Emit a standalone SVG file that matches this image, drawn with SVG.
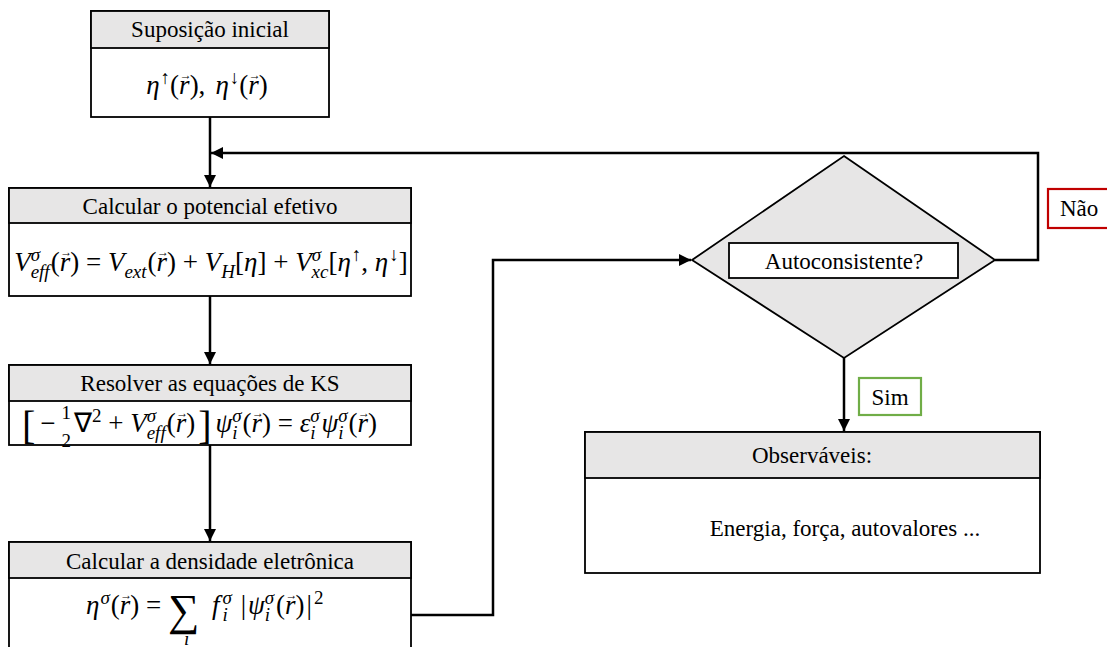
<svg xmlns="http://www.w3.org/2000/svg" width="1107" height="647" viewBox="0 0 1107 647">
<style>
.box{fill:#fff;stroke:#000;stroke-width:1.8}
.hdr{fill:#e7e6e6;stroke:#000;stroke-width:1.8}
.t{font-family:"Liberation Serif","Times New Roman",serif;font-size:23px;fill:#000}
.m{font-family:"Liberation Serif","Times New Roman",serif;font-size:27px;font-style:italic;fill:#000;white-space:pre}
.u{font-style:normal}
.s{font-size:19px}
.v{font-size:12px;font-style:normal}
.b{font-size:40px;font-style:normal}
.c{fill:none;stroke:#000;stroke-width:2.5}
</style>
<defs>
<marker id="ah" markerUnits="userSpaceOnUse" markerWidth="12" markerHeight="12" viewBox="0 0 10 10" refX="10" refY="5" orient="auto">
<path d="M0,0 L10,5 L0,10 z" fill="#000"/>
</marker>
</defs>
<rect width="1107" height="647" fill="#fff"/>
<g id="connectors">
<path class="c" d="M210,117 V187" marker-end="url(#ah)"/>
<path class="c" d="M210,296 V364" marker-end="url(#ah)"/>
<path class="c" d="M210,445 V541" marker-end="url(#ah)"/>
<path class="c" d="M411,615 H493 V260 H691" marker-end="url(#ah)"/>
<path class="c" d="M995,260 H1038 V153 H211" marker-end="url(#ah)"/>
<path class="c" d="M844,358 V431" marker-end="url(#ah)"/>
</g>
<g id="n1">
<rect class="box" x="91" y="11" width="238" height="106"/>
<rect class="hdr" x="91" y="11" width="238" height="37"/>
<text class="t" x="210" y="37" text-anchor="middle">Suposição inicial</text>
<text class="m" x="207" y="94" text-anchor="middle">η<tspan class="s u" dx="1" dy="-10">↑</tspan><tspan class="u" dy="10">(</tspan>r<tspan class="v" dx="-10" dy="-15">→</tspan><tspan class="u" dx="-2" dy="15">),</tspan><tspan dx="10">η</tspan><tspan class="s u" dx="1" dy="-10">↓</tspan><tspan class="u" dy="10">(</tspan>r<tspan class="v" dx="-10" dy="-15">→</tspan><tspan class="u" dx="-2" dy="15">)</tspan></text>
</g>
<g id="n2">
<rect class="box" x="9" y="188" width="402" height="108"/>
<rect class="hdr" x="9" y="188" width="402" height="35"/>
<text class="t" x="210" y="214" text-anchor="middle">Calcular o potencial efetivo</text>
<text class="m" x="211" y="271" text-anchor="middle">V<tspan class="s" dy="-10">σ</tspan><tspan class="s" dx="-9.5" dy="17">eff</tspan><tspan class="u" dx="1" dy="-7">(</tspan>r<tspan class="v" dx="-10" dy="-15">→</tspan><tspan class="u" dx="-2" dy="15">) = </tspan>V<tspan class="s" dy="7">ext</tspan><tspan class="u" dx="1" dy="-7">(</tspan>r<tspan class="v" dx="-10" dy="-15">→</tspan><tspan class="u" dx="-2" dy="15">) + </tspan>V<tspan class="s" dy="7">H</tspan><tspan class="u" dy="-7">[</tspan>η<tspan class="u">] + </tspan>V<tspan class="s" dy="-10">σ</tspan><tspan class="s" dx="-9.5" dy="17">xc</tspan><tspan class="u" dy="-7">[</tspan>η<tspan class="s u" dx="1" dy="-10">↑</tspan><tspan class="u" dy="10">, </tspan>η<tspan class="s u" dx="1" dy="-10">↓</tspan><tspan class="u" dy="10">]</tspan></text>
</g>
<g id="n3">
<rect class="box" x="9" y="365" width="402" height="80"/>
<rect class="hdr" x="9" y="365" width="402" height="36"/>
<text class="t" x="210" y="391" text-anchor="middle">Resolver as equações de KS</text>
<text class="m" x="22" y="432"><tspan class="b" dy="7">[</tspan><tspan class="u" dx="5" dy="-7">−</tspan><tspan class="u s" dx="6" dy="-13">1</tspan><tspan class="u s" dx="-9.5" dy="28">2</tspan><tspan class="u" dx="3" dy="-15">∇</tspan><tspan class="u s" dy="-10">2</tspan><tspan class="u" dy="10"> + </tspan>V<tspan class="s" dy="-10">σ</tspan><tspan class="s" dx="-9.5" dy="17">eff</tspan><tspan class="u" dx="1" dy="-7">(</tspan>r<tspan class="v" dx="-10" dy="-15">→</tspan><tspan class="u" dx="-2" dy="15">)</tspan><tspan class="b" dx="3" dy="7">]</tspan><tspan dx="4" dy="-7">ψ</tspan><tspan class="s" dy="-10">σ</tspan><tspan class="s" dx="-9.5" dy="17">i</tspan><tspan class="u" dx="5" dy="-7">(</tspan>r<tspan class="v" dx="-10" dy="-15">→</tspan><tspan class="u" dx="-2" dy="15">) = </tspan>ε<tspan class="s" dy="-10">σ</tspan><tspan class="s" dx="-9.5" dy="17">i</tspan><tspan dx="6" dy="-7">ψ</tspan><tspan class="s" dy="-10">σ</tspan><tspan class="s" dx="-9.5" dy="17">i</tspan><tspan class="u" dx="5" dy="-7">(</tspan>r<tspan class="v" dx="-10" dy="-15">→</tspan><tspan class="u" dx="-2" dy="15">)</tspan></text>
</g>
<g id="n4">
<rect class="box" x="9" y="542" width="402" height="120"/>
<rect class="hdr" x="9" y="542" width="402" height="36"/>
<text class="t" x="210" y="569" text-anchor="middle">Calcular a densidade eletrônica</text>
<text class="m" x="86" y="614">η<tspan class="s" dx="1" dy="-10">σ</tspan><tspan class="u" dx="1" dy="10">(</tspan>r<tspan class="v" dx="-10" dy="-15">→</tspan><tspan class="u" dx="-2" dy="15">) = </tspan></text>
<text class="m u" x="168" y="625" style="font-size:44px">∑</text>
<text class="m" x="184" y="645" style="font-size:19px">i</text>
<text class="m" x="212" y="614">f<tspan class="s" dx="3" dy="-10">σ</tspan><tspan class="s" dx="-9.5" dy="17">i</tspan><tspan class="u" dx="13" dy="-7">|</tspan><tspan dx="2">ψ</tspan><tspan class="s" dy="-10">σ</tspan><tspan class="s" dx="-9.5" dy="17">i</tspan><tspan class="u" dx="6" dy="-7">(</tspan>r<tspan class="v" dx="-10" dy="-15">→</tspan><tspan class="u" dx="-2" dy="15">)</tspan><tspan class="u" dx="2">|</tspan><tspan class="s u" dx="2" dy="-10">2</tspan></text>
</g>
<g id="n5">
<polygon points="844,156 995,260 844,358 692,260" fill="#e7e6e6" stroke="#000" stroke-width="1.8"/>
<rect class="box" x="729" y="243" width="229" height="35"/>
<text class="t" x="844" y="269" text-anchor="middle">Autoconsistente?</text>
</g>
<g id="n6">
<rect x="1048" y="189" width="62" height="39" fill="#fff" stroke="#c00000" stroke-width="2.2"/>
<text class="t" x="1060" y="216">Não</text>
</g>
<g id="n7">
<rect x="859" y="378" width="62" height="37" fill="#fff" stroke="#70ad47" stroke-width="2.2"/>
<text class="t" x="890" y="405" text-anchor="middle">Sim</text>
</g>
<g id="n8">
<rect class="box" x="585" y="432" width="455" height="141"/>
<rect class="hdr" x="585" y="432" width="455" height="46"/>
<text class="t" x="812" y="463" text-anchor="middle">Observáveis:</text>
<text class="t" x="845" y="536" text-anchor="middle">Energia, força, autovalores ...</text>
</g>
</svg>
